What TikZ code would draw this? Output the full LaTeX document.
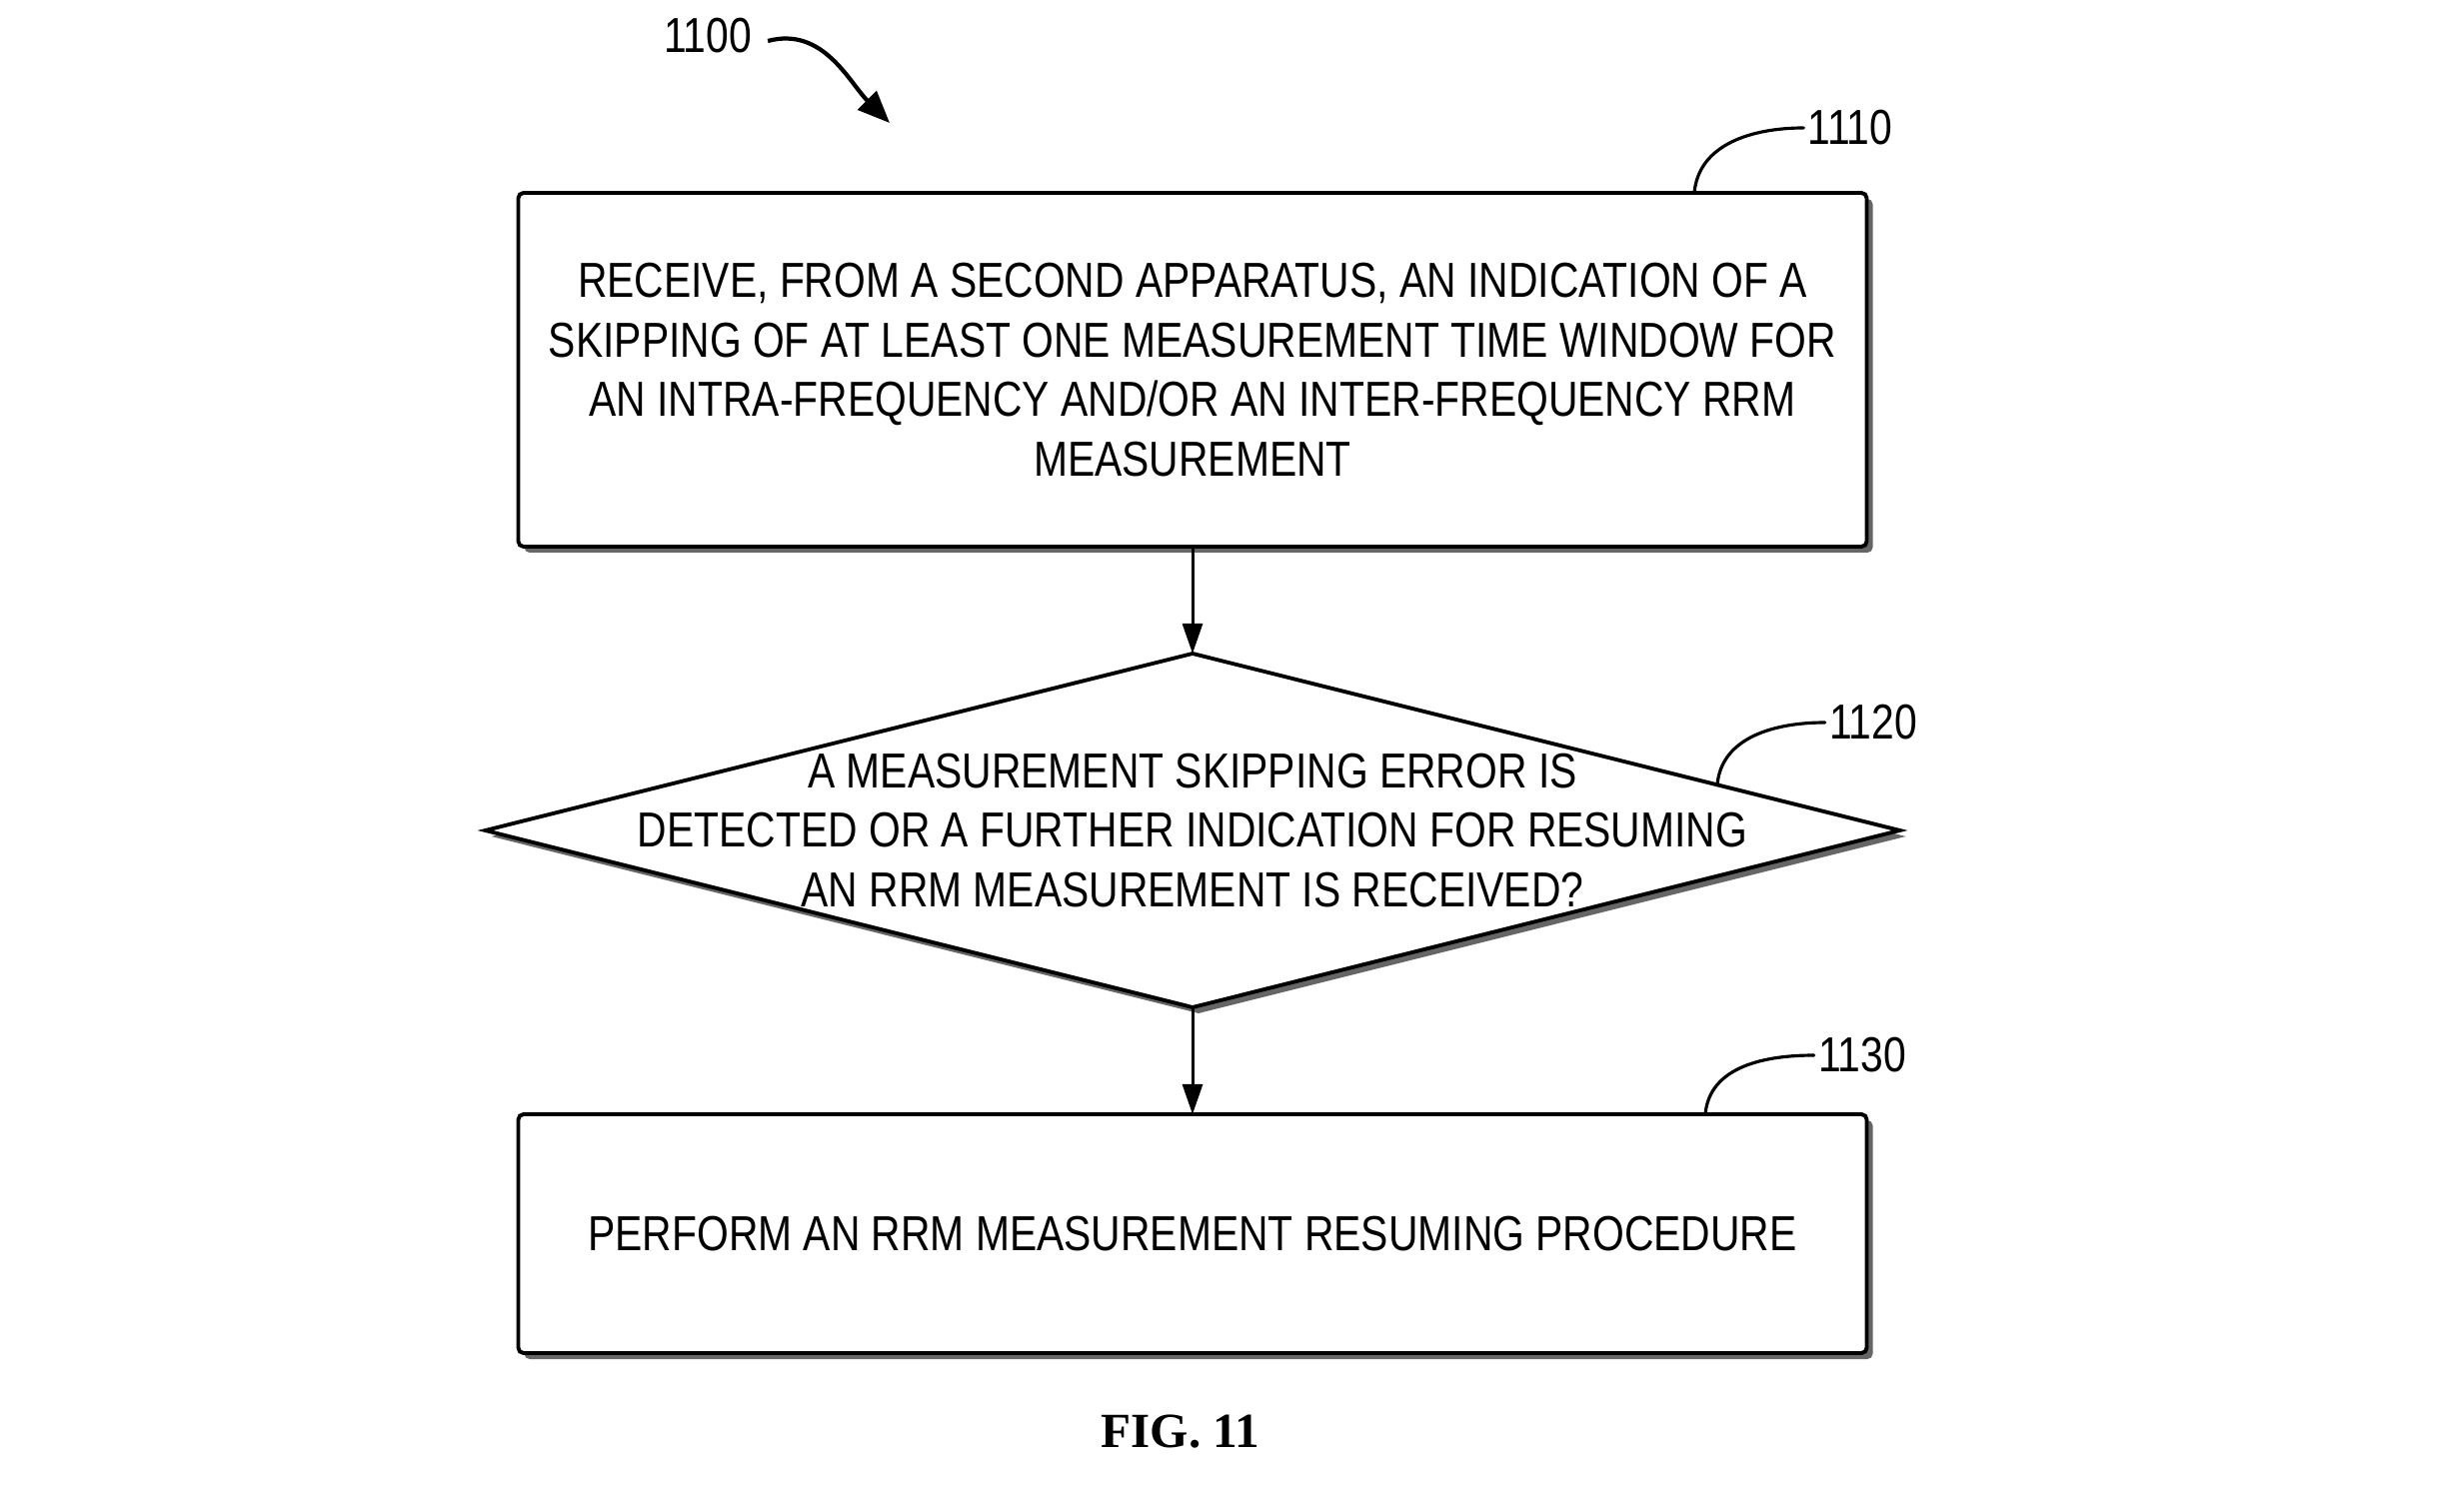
\documentclass[tikz,border=0pt]{standalone}
\usepackage{fontspec}
\setmainfont{Liberation Sans}[FakeStretch=0.83]
\newfontfamily\figfont{Liberation Serif}
\usetikzlibrary{arrows.meta,positioning,shapes.geometric,shadows,calc}

\begin{document}
\begin{tikzpicture}[
        node distance=1.07cm,
        box/.style={
          draw,
          line width=1.1pt,
          rounded corners=1.5pt,
          minimum width=13.49cm,
          align=center,
          fill=white,
          outer sep=0pt,
          font=\fontsize{14}{17}\selectfont,
          drop shadow={shadow xshift=0.06cm, shadow yshift=-0.06cm, fill=black!60, opacity=1}
        },
        decision/.style={
          diamond,
          draw,
          line width=1.1pt,
          minimum width=14.15cm,
          minimum height=3.54cm,
          inner sep=0pt,
          fill=white,
          outer sep=0pt,
          drop shadow={shadow xshift=0.06cm, shadow yshift=-0.06cm, fill=black!60, opacity=1}
        },
        steptext/.style={
          align=center,
          font=\fontsize{14}{17}\selectfont
        },
        refnum/.style={
          font=\fontsize{14}{17}\selectfont,
          inner sep=1pt
        },
        arrow/.style={
          -{Triangle[length=0.3cm, width=0.2cm]},
          line width=0.85pt
        },
        leader/.style={
          line width=0.9pt,
          line cap=round
        }
      ]

      \useasboundingbox (0,0) rectangle (24.65,14.92);

      \node[box, minimum height=3.54cm] (receive) at (11.93,11.22)
        {RECEIVE, FROM A SECOND APPARATUS, AN INDICATION OF A\\
         SKIPPING OF AT LEAST ONE MEASUREMENT TIME WINDOW FOR\\
         AN INTRA-FREQUENCY AND/OR AN INTER-FREQUENCY RRM\\
         MEASUREMENT};
      \node[decision, below=of receive] (check) {};
      \node[steptext] (checktext) at (check)
        {A MEASUREMENT SKIPPING ERROR IS\\
         DETECTED OR A FURTHER INDICATION FOR RESUMING\\
         AN RRM MEASUREMENT IS RECEIVED?};
      \node[box, minimum height=2.39cm, below=of check] (resume)
        {PERFORM AN RRM MEASUREMENT RESUMING PROCEDURE};

      \draw[arrow] (receive) -- (check);
      \draw[arrow] (check) -- (resume);

      % reference numerals
      \node[refnum] (ref1100) at (7.08,14.56) {1100};
      \coordinate (tip1100) at (8.90,13.69);
      \draw[-{Triangle[length=0.32cm, width=0.26cm]}, line width=1.2pt]
        ([xshift=0.12cm, yshift=-0.05cm]ref1100.east) to[out=15, in=135] (tip1100);

      \node[refnum] (ref1110) at (18.51,13.64) {1110};
      \draw[leader] (ref1110.west) to[out=180, in=85] ([xshift=5.02cm]receive.north);

      \node[refnum] (ref1120) at (18.74,7.69) {1120};
      \draw[leader] (ref1120.west) to[out=180, in=85] ($(check.north)!0.742!(check.east)$);

      \node[refnum] (ref1130) at (18.63,4.36) {1130};
      \draw[leader] (ref1130.west) to[out=180, in=85] ([xshift=5.13cm]resume.north);

      \node[font=\figfont\bfseries\fontsize{14}{17}\selectfont, below=0.5cm of resume, xshift=-0.12cm] (fig) {FIG. 11};

      \end{tikzpicture}
\end{document}
